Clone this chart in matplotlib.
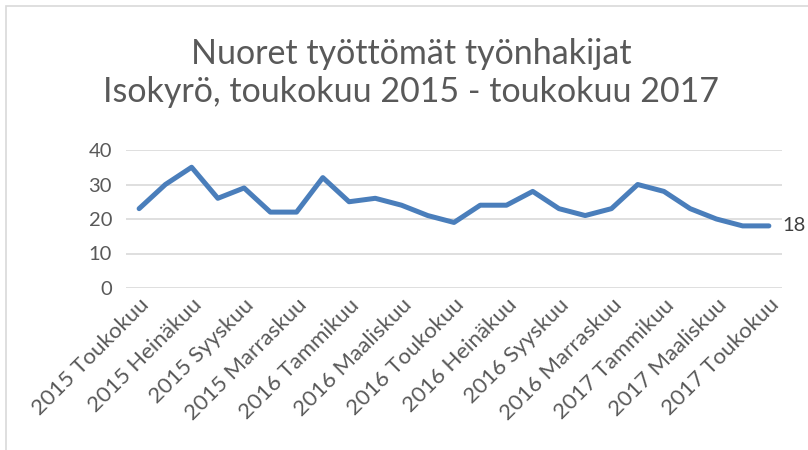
import numpy as np
import matplotlib
matplotlib.use("Agg")
import matplotlib.pyplot as plt
from matplotlib.patches import Rectangle

# monthly values, 2015 Toukokuu .. 2017 Toukokuu
months = ["2015 Toukokuu", "2015 Kesäkuu", "2015 Heinäkuu", "2015 Elokuu",
          "2015 Syyskuu", "2015 Lokakuu", "2015 Marraskuu", "2015 Joulukuu",
          "2016 Tammikuu", "2016 Helmikuu", "2016 Maaliskuu", "2016 Huhtikuu",
          "2016 Toukokuu", "2016 Kesäkuu", "2016 Heinäkuu", "2016 Elokuu",
          "2016 Syyskuu", "2016 Lokakuu", "2016 Marraskuu", "2016 Joulukuu",
          "2017 Tammikuu", "2017 Helmikuu", "2017 Maaliskuu", "2017 Huhtikuu",
          "2017 Toukokuu"]
values = [23, 30, 35, 26, 29, 22, 22, 32, 25, 26, 24, 21, 19,
          24, 24, 28, 23, 21, 23, 30, 28, 23, 20, 18, 18]
yticks = [0, 10, 20, 30, 40]

title = "Nuoret työttömät työnhakijat\nIsokyrö, toukokuu 2015 - toukokuu 2017"

plt.rcParams['font.family'] = ['Lato', 'DejaVu Sans']
grey = "#595959"

fig = plt.figure(figsize=(8.08, 4.5), dpi=100)
fig.patches.append(Rectangle((6/808, -0.1), 1.2, 1 - 6/450 + 0.1, transform=fig.transFigure,
                             fill=False, edgecolor="#d9d9d9", linewidth=1.2))

ax = fig.add_axes([126/808, 1 - 288/450, (782 - 126)/808, (288 - 150)/450])
x = np.arange(len(values))
ax.plot(x, values, color="#4a7ebb", linewidth=3.6, solid_joinstyle="round", solid_capstyle="round")
ax.annotate(str(values[-1]), (x[-1], values[-1]), xytext=(10, 0), textcoords="offset points",
            va="center", ha="left", fontsize=14.5, color="#404040")

ax.set_xlim(-0.5, len(values) - 0.5)
ax.set_ylim(0, 40)
ax.set_yticks(yticks)
ax.set_yticklabels([str(v) for v in yticks], fontsize=14.5, color=grey)
ax.tick_params(axis="y", length=0, pad=10)
ax.grid(axis="y", color="#d9d9d9", linewidth=1.2)
ax.set_axisbelow(True)
for s in ax.spines.values():
    s.set_visible(False)

ax.set_xticks(x[::2])
ax.set_xticklabels(months[::2], rotation=45, ha="right", va="top",
                   rotation_mode="anchor", fontsize=16, color=grey)
ax.tick_params(axis="x", length=0, pad=5)

fig.text(411/808, 1 - 73/450, title, ha="center", va="center", fontsize=24.5,
         color=grey, linespacing=1.25)

fig.savefig("out.png", dpi=100)
